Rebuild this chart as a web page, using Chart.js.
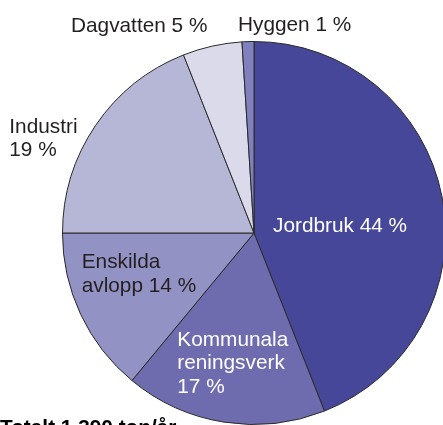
<!DOCTYPE html>
<html>
<head>
<meta charset="utf-8">
<script src="https://cdn.jsdelivr.net/npm/chart.js@4/dist/chart.umd.min.js"></script>
<style>
  html, body { margin: 0; padding: 0; background: #fff; overflow: hidden; }
  #wrap { position: relative; width: 443px; height: 425px; overflow: hidden; }
  canvas { position: absolute; left: 0; top: 0; }
</style>
</head>
<body>
<div id="wrap"><canvas id="c" width="460" height="440"></canvas></div>
<script>
// Fosforkällor, andel av total belastning (%)
const categories = ['Jordbruk', 'Kommunala reningsverk', 'Enskilda avlopp', 'Industri', 'Dagvatten', 'Hyggen'];
const shares = [44, 17, 14, 19, 5, 1];
// Etikettext per sektor; {v} ersätts med andelen
const labelTemplates = ['Jordbruk {v} %', 'Kommunala\nreningsverk\n{v} %', 'Enskilda\navlopp {v} %', 'Industri\n{v} %', 'Dagvatten {v} %', 'Hyggen {v} %'];
const totalText = 'Totalt 1 390 ton/år';

const sliceColors = ['#47479a', '#6e6bae', '#9392c4', '#b6b6d7', '#dadaeb', '#8080bf'];
const labelColors = ['#ffffff', '#ffffff', '#231f20', '#231f20', '#231f20', '#231f20'];
// Etikettplacering relativt pajens mittpunkt (första radens baslinje)
const labelOffsets = [[19, -0.7], [-76.7, 113], [-172.3, 35.3], [-244.7, -100.3], [-183, -201.3], [-16, -202]];
const lineHeight = 23.4;
const fontFamily = '"Liberation Sans", Arial, Helvetica, sans-serif';
const fontSize = 20.8;

const labelPlugin = {
  id: 'sliceLabels',
  afterDatasetsDraw(chart) {
    const ctx = chart.ctx;
    const arcs = chart.getDatasetMeta(0).data;
    const vals = chart.data.datasets[0].data;
    ctx.save();
    ctx.font = fontSize + 'px ' + fontFamily;
    ctx.textAlign = 'left';
    ctx.textBaseline = 'alphabetic';
    arcs.forEach((arc, i) => {
      const lines = labelTemplates[i].replace('{v}', vals[i]).split('\n');
      const [dx, dy] = labelOffsets[i];
      ctx.fillStyle = labelColors[i];
      lines.forEach((ln, k) => {
        ctx.fillText(ln, arc.x + dx, arc.y + dy + k * lineHeight);
      });
    });
    ctx.font = 'bold ' + fontSize + 'px ' + fontFamily;
    ctx.fillStyle = '#000000';
    ctx.fillText(totalText, 0, 434);
    ctx.restore();
  }
};

new Chart(document.getElementById('c'), {
  type: 'pie',
  data: {
    labels: categories,
    datasets: [{
      data: shares,
      backgroundColor: sliceColors,
      borderColor: '#2a2a2a',
      borderWidth: 1
    }]
  },
  options: {
    responsive: false,
    devicePixelRatio: 1,
    animation: false,
    layout: { padding: { left: 62, top: 41, right: 14, bottom: 15 } },
    plugins: {
      legend: { display: false },
      tooltip: { enabled: false }
    }
  },
  plugins: [labelPlugin]
});
</script>
</body>
</html>
